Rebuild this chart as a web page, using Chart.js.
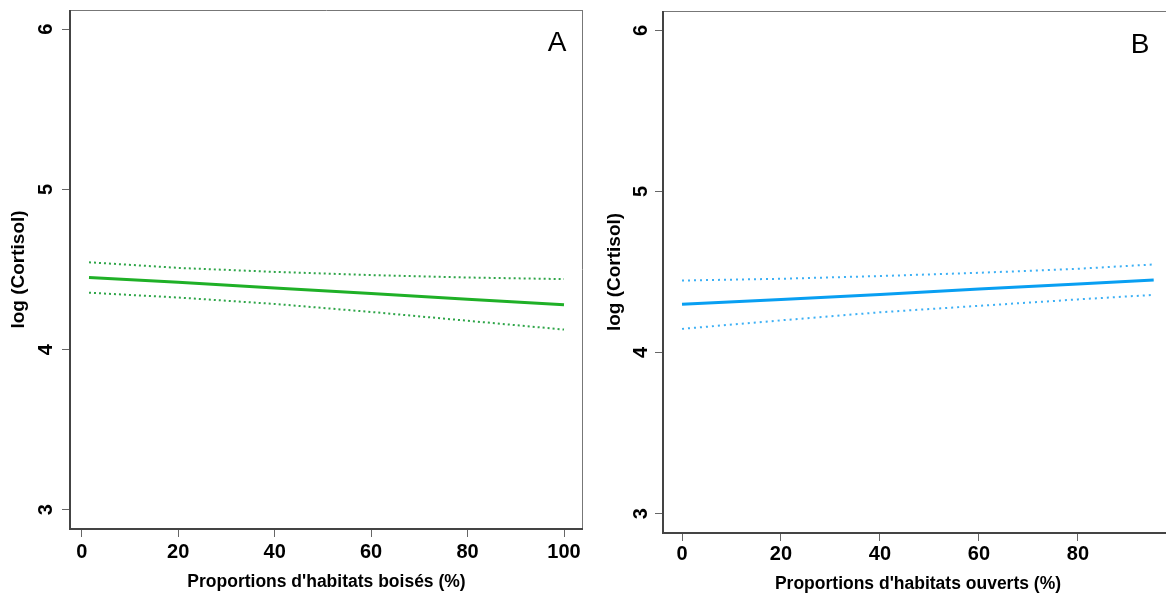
<!DOCTYPE html>
<html><head><meta charset="utf-8">
<script src="https://cdn.jsdelivr.net/npm/chart.js@4"></script>
<style>
html,body{margin:0;padding:0;background:#fff;overflow:hidden;width:1166px;height:601px;position:relative;}
canvas{position:absolute;top:0;}
#cA{left:0;} #cB{left:593px;}
</style></head><body>
<canvas id="cA" width="600" height="601"></canvas>
<canvas id="cB" width="610" height="601"></canvas>
<script>
// ---- Data ----
const xA     = [1.5, 20, 40, 60, 80, 100];
const fitA   = [4.45, 4.42, 4.385, 4.35, 4.315, 4.28];
const upperA = [4.545, 4.51, 4.485, 4.465, 4.45, 4.44];
const lowerA = [4.355, 4.325, 4.285, 4.235, 4.18, 4.125];

const xB     = [0, 20, 40, 60, 80, 95.3];
const fitB   = [4.30, 4.33, 4.36, 4.395, 4.425, 4.45];
const upperB = [4.447, 4.458, 4.475, 4.495, 4.52, 4.547];
const lowerB = [4.147, 4.20, 4.25, 4.29, 4.33, 4.358];

const yTicks  = [3, 4, 5, 6];
const xTicksA = [0, 20, 40, 60, 80, 100];
const xTicksB = [0, 20, 40, 60, 80];

const titleXA = "Proportions d'habitats boisés (%)";
const titleXB = "Proportions d'habitats ouverts (%)";
const titleY  = "log (Cortisol)";

Chart.defaults.font.family = '"Liberation Sans", Arial, Helvetica, sans-serif';
Chart.defaults.color = '#000';

const pts = (xs, ys) => xs.map((x, i) => ({x: x, y: ys[i]}));

const framePlugin = {
  id: 'frame',
  afterDraw(chart, args, opts) {
    const {ctx, chartArea: {left, top, right, bottom}} = chart;
    ctx.save();
    ctx.lineWidth = 1; ctx.strokeStyle = '#777';
    ctx.beginPath();
    ctx.moveTo(left, top + 0.5); ctx.lineTo(right, top + 0.5);
    ctx.moveTo(right - 0.5, top); ctx.lineTo(right - 0.5, bottom);
    ctx.stroke();
    ctx.lineWidth = 2; ctx.strokeStyle = '#444';
    ctx.beginPath();
    ctx.moveTo(left, top); ctx.lineTo(left, bottom); ctx.lineTo(right, bottom);
    ctx.stroke();
    ctx.font = '28px "Liberation Sans", Arial, sans-serif';
    ctx.fillStyle = '#000'; ctx.textAlign = 'center'; ctx.textBaseline = 'middle';
    ctx.fillText(opts.letter, opts.lx, opts.ly);
    ctx.restore();
  }
};

function makeChart(id, c) {
  return new Chart(document.getElementById(id), {
    type: 'line',
    data: {
      datasets: [
        {data: pts(c.xs, c.upper), borderColor: c.dotColor, borderWidth: 2, borderDash: c.dash, pointRadius: 0, fill: false},
        {data: pts(c.xs, c.lower), borderColor: c.dotColor, borderWidth: 2, borderDash: c.dash, pointRadius: 0, fill: false},
        {data: pts(c.xs, c.fit), borderColor: c.color, borderWidth: 3, pointRadius: 0, fill: false}
      ]
    },
    plugins: [framePlugin],
    options: {
      responsive: false,
      animation: false,
      events: [],
      layout: {padding: {left: 0, top: c.top, right: c.right, bottom: 0}},
      plugins: {legend: {display: false}, tooltip: {enabled: false}, frame: {letter: c.letter, lx: c.lx, ly: c.ly}},
      scales: {
        x: {
          type: 'linear', min: c.xmin, max: c.xmax,
          afterBuildTicks: s => { s.ticks = c.xTicks.map(v => ({value: v})); },
          afterFit: s => { s.height = c.xh; s.paddingLeft = 0; s.paddingRight = 0; },
          grid: {display: true, drawOnChartArea: false, drawTicks: true, tickLength: 8, color: '#666', lineWidth: 1},
          border: {display: false},
          ticks: {font: {size: 20, weight: 'bold'}, color: '#000', padding: c.xtp, autoSkip: false, maxRotation: 0, minRotation: 0},
          title: {display: true, text: c.xTitle, font: {size: 17.5, weight: 'bold'}, color: '#000', padding: {top: 0, bottom: c.xtb}}
        },
        y: {
          type: 'linear', min: 2.88, max: 6.12,
          afterBuildTicks: s => { s.ticks = yTicks.map(v => ({value: v})); },
          afterFit: s => { s.width = 70; s.paddingTop = 0; s.paddingBottom = 0; },
          grid: {display: true, drawOnChartArea: false, drawTicks: true, tickLength: 8, color: '#666', lineWidth: 1},
          border: {display: false},
          ticks: {font: {size: 20, weight: 'bold'}, color: '#000', padding: c.ytp, autoSkip: false, minRotation: 90, maxRotation: 90, crossAlign: 'center'},
          title: {display: true, text: titleY, font: {size: 19, weight: 'bold'}, color: '#000', padding: {top: c.ytt, bottom: 0}}
        }
      }
    }
  });
}

makeChart('cA', {
  xs: xA, fit: fitA, upper: upperA, lower: lowerA,
  color: '#1fb027', dotColor: '#2ea548', dash: [2, 3],
  xmin: -2.44, xmax: 103.94, xTicks: xTicksA, xTitle: titleXA,
  top: 10, right: 17, xh: 72, xtp: 3.5, xtb: 8, ytp: 10, ytt: 7.6,
  letter: 'A', lx: 557, ly: 43
});
makeChart('cB', {
  xs: xB, fit: fitB, upper: upperB, lower: lowerB,
  color: '#089ff2', dotColor: '#3cb0f5', dash: [2, 4],
  xmin: -3.84, xmax: 99.2, xTicks: xTicksB, xTitle: titleXB,
  top: 11, right: 30, xh: 68, xtp: 1.5, xtb: 6, ytp: 8.4, ytt: 10.6,
  letter: 'B', lx: 547, ly: 45
});
</script>
</body></html>
